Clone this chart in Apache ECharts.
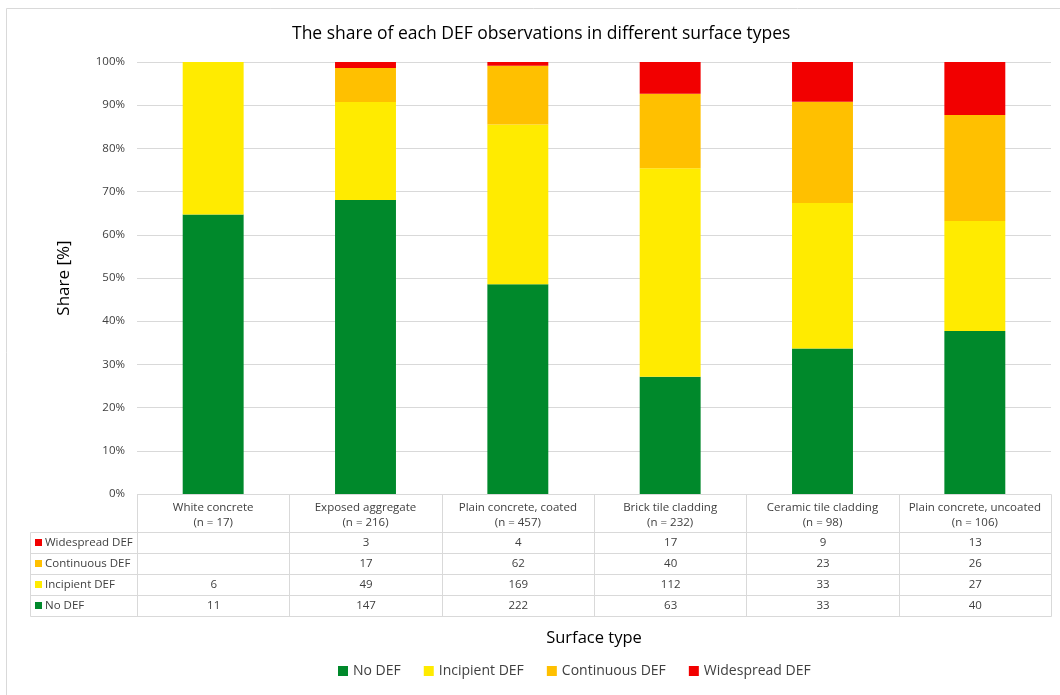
<!DOCTYPE html>
<html>
<head>
<meta charset="utf-8">
<script src="https://cdn.jsdelivr.net/npm/echarts@6/dist/echarts.min.js"></script>
<style>
  html, body { margin: 0; padding: 0; background: #ffffff; }
  #chart { width: 1060px; height: 695px; }
</style>
</head>
<body>
<div id="chart"></div>
<script>
// Observation counts per surface type
const surfaceTypes = ['White concrete', 'Exposed aggregate', 'Plain concrete, coated',
  'Brick tile cladding', 'Ceramic tile cladding', 'Plain concrete, uncoated'];
const noDef = [11, 147, 222, 63, 33, 40];
const incipientDef = [6, 49, 169, 112, 33, 27];
const continuousDef = [null, 17, 62, 40, 23, 26];
const widespreadDef = [null, 3, 4, 17, 9, 13];

const seriesNames = ['No DEF', 'Incipient DEF', 'Continuous DEF', 'Widespread DEF'];
const seriesCounts = [noDef, incipientDef, continuousDef, widespreadDef];
const seriesColors = ['#00892B', '#FFEB00', '#FFC000', '#F20000'];

const FONT = '"Open Sans", sans-serif';
const TEXT = '#404040';
const LINE = '#d9d9d9';

const totals = surfaceTypes.map((_, i) =>
  seriesCounts.reduce((s, arr) => s + (arr[i] || 0), 0));

const chart = echarts.init(document.getElementById('chart'));

chart.setOption({
  animation: false,
  backgroundColor: '#ffffff',
  textStyle: { fontFamily: FONT },
  title: {
    text: 'The share of each DEF observations in different surface types',
    left: 287, top: 20,
    textStyle: { fontFamily: FONT, fontSize: 17.5, fontWeight: 'normal', color: '#000000' }
  },
  grid: { left: 137, right: 9, top: 62, bottom: 201 },
  legend: {
    data: seriesNames,
    left: 333, top: 659,
    icon: 'rect', itemWidth: 10, itemHeight: 10, itemGap: 23,
    textStyle: { fontFamily: FONT, fontSize: 14, color: TEXT }
  },
  xAxis: {
    type: 'category',
    data: surfaceTypes,
    name: 'Surface type',
    nameLocation: 'middle',
    nameGap: 136,
    nameTextStyle: { fontFamily: FONT, fontSize: 16.5, color: '#000000' },
    axisLine: { show: false },
    axisTick: { show: false },
    axisLabel: {
      interval: 0, margin: 6,
      fontFamily: FONT, fontSize: 11.5, color: TEXT, lineHeight: 15,
      formatter: (v, i) => v + '\n(n = ' + totals[i] + ')'
    }
  },
  yAxis: {
    type: 'value',
    min: 0, max: 100, interval: 10,
    name: 'Share [%]',
    nameLocation: 'middle',
    nameGap: 64,
    nameTextStyle: { fontFamily: FONT, fontSize: 17, color: '#000000' },
    axisLine: { show: false },
    axisTick: { show: false },
    axisLabel: { margin: 12, fontFamily: FONT, fontSize: 11.5, color: TEXT, formatter: '{value}%' },
    splitLine: { lineStyle: { color: LINE, width: 1 } }
  },
  series: seriesNames.map((name, k) => ({
    name: name,
    type: 'bar',
    stack: 'share',
    barWidth: '40%',
    itemStyle: { color: seriesColors[k] },
    data: seriesCounts[k].map((c, i) => c == null ? null : c / totals[i] * 100)
  }))
});

// Data table under the plot, laid out from the category axis positions
function drawTable() {
  const cx0 = chart.convertToPixel({ xAxisIndex: 0 }, surfaceTypes[0]);
  const cx1 = chart.convertToPixel({ xAxisIndex: 0 }, surfaceTypes[1]);
  const band = cx1 - cx0;
  const left = Math.round(cx0 - band / 2) + 0.5;
  const right = left + band * surfaceTypes.length;
  const yTop = Math.round(chart.convertToPixel({ yAxisIndex: 0 }, 0)) + 0.5;
  const headerH = 38, rowH = 21;
  const labelLeft = 30.5;
  const rowOrder = [3, 2, 1, 0];
  const bottom = yTop + headerH + rowH * rowOrder.length;
  const els = [];
  const line = (x1, y1, x2, y2) => els.push({
    type: 'line', silent: true,
    shape: { x1: x1, y1: y1, x2: x2, y2: y2 },
    style: { stroke: LINE, lineWidth: 1 }
  });

  line(left, yTop, right, yTop);
  for (let r = 0; r <= rowOrder.length; r++) {
    const y = yTop + headerH + rowH * r;
    line(labelLeft, y, right, y);
  }
  line(labelLeft, yTop + headerH, labelLeft, bottom);
  for (let c = 0; c <= surfaceTypes.length; c++) {
    const x = Math.round(left + band * c - 0.5) + 0.5;
    line(x, yTop, x, bottom);
  }

  rowOrder.forEach((k, r) => {
    const yMid = yTop + headerH + rowH * r + rowH / 2;
    els.push({
      type: 'rect', silent: true,
      shape: { x: 35, y: Math.round(yMid - 4), width: 7, height: 7 },
      style: { fill: seriesColors[k] }
    });
    els.push({
      type: 'text', silent: true,
      x: 45, y: yMid,
      style: { text: seriesNames[k], fontFamily: FONT, fontSize: 11.5, fill: TEXT,
        textAlign: 'left', textVerticalAlign: 'middle' }
    });
    seriesCounts[k].forEach((v, i) => {
      if (v == null) return;
      els.push({
        type: 'text', silent: true,
        x: left + band * (i + 0.5), y: yMid,
        style: { text: String(v), fontFamily: FONT, fontSize: 11.5, fill: TEXT,
          textAlign: 'center', textVerticalAlign: 'middle' }
      });
    });
  });

  // chart area frame
  els.push({
    type: 'rect', silent: true,
    shape: { x: 6.5, y: 8.5, width: 1070, height: 700 },
    style: { fill: 'none', stroke: LINE, lineWidth: 1 }
  });

  chart.setOption({ graphic: els });
}
drawTable();
</script>
</body>
</html>
